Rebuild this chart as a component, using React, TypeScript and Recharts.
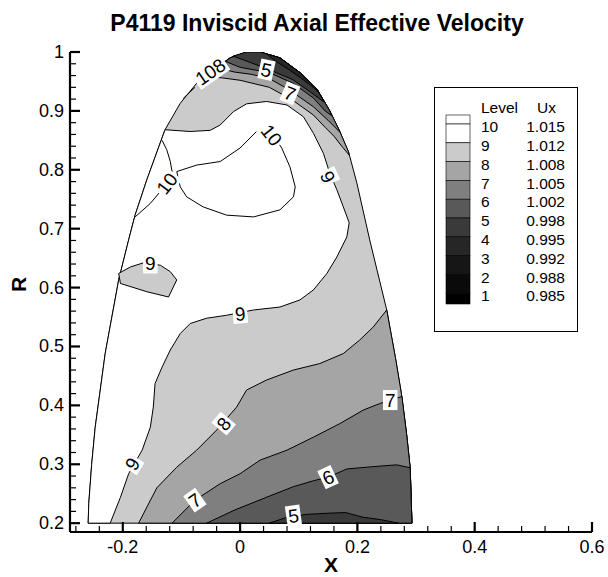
import { ScatterChart, Scatter, XAxis, YAxis, Legend } from 'recharts'

type Pt = [number, number]

const FONT = '"Liberation Sans", Arial, Helvetica, sans-serif'

// axis ticks
const X_MAJOR = [-0.2, 0, 0.2, 0.4, 0.6]
const X_MINOR = [-0.28, -0.24, -0.16, -0.12, -0.08, -0.04, 0.04, 0.08, 0.12, 0.16, 0.24, 0.28, 0.32, 0.36, 0.44, 0.48, 0.52, 0.56]
const Y_MAJOR = [0.2, 0.3, 0.4, 0.5, 0.6, 0.7, 0.8, 0.9, 1]
const Y_MINOR = [
  0.22, 0.24, 0.26, 0.28, 0.32, 0.34, 0.36, 0.38, 0.42, 0.44, 0.46, 0.48, 0.52, 0.54, 0.56, 0.58,
  0.62, 0.64, 0.66, 0.68, 0.72, 0.74, 0.76, 0.78, 0.82, 0.84, 0.86, 0.88, 0.92, 0.94, 0.96, 0.98,
]

// legend
const LEVELS = [10, 9, 8, 7, 6, 5, 4, 3, 2, 1]
const UX = ['1.015', '1.012', '1.008', '1.005', '1.002', '0.998', '0.995', '0.992', '0.988', '0.985']
// flood colour per band, index 0 = below level 1 ... 10 = above level 10
const BAND = ['#000000', '#0a0a0a', '#161616', '#262626', '#3a3a3a', '#595959', '#7f7f7f', '#a5a5a5', '#cbcbcb', '#ffffff', '#ffffff']

// blade outline, left side bottom -> top, right side top -> bottom
const BOUNDARY_LEFT: Pt[] = [
  [-0.259, 0.2], [-0.258, 0.233], [-0.253, 0.3], [-0.247, 0.363], [-0.23, 0.488], [-0.207, 0.613],
  [-0.19, 0.681], [-0.179, 0.723], [-0.159, 0.783], [-0.128, 0.868], [-0.102, 0.913], [-0.074, 0.947],
  [-0.034, 0.978], [-0.017, 0.99], [0.011, 1.0],
]
const BOUNDARY_RIGHT: Pt[] = [
  [0.034, 1.0], [0.068, 0.99], [0.102, 0.965], [0.131, 0.937], [0.153, 0.9], [0.17, 0.865],
  [0.185, 0.83], [0.199, 0.778], [0.221, 0.681], [0.25, 0.562], [0.265, 0.48], [0.275, 0.42],
  [0.284, 0.35], [0.29, 0.294], [0.293, 0.2],
]

// level 9: from the hub up the middle, round the top, back to the left edge
const C9_MAIN: Pt[] = [
  [-0.2215, 0.2], [-0.204, 0.244], [-0.19, 0.284], [-0.167, 0.324], [-0.153, 0.363], [-0.148, 0.397],
  [-0.145, 0.437], [-0.133, 0.465], [-0.119, 0.494], [-0.102, 0.522], [-0.085, 0.539], [-0.057, 0.548],
  [-0.023, 0.553], [0.023, 0.562], [0.068, 0.567], [0.102, 0.579], [0.125, 0.596], [0.148, 0.624],
  [0.165, 0.652], [0.182, 0.686], [0.186, 0.71], [0.176, 0.737], [0.165, 0.766], [0.153, 0.794],
  [0.142, 0.828], [0.125, 0.862], [0.108, 0.89], [0.08, 0.91], [0.045, 0.916], [0.011, 0.912],
  [-0.011, 0.899], [-0.034, 0.876], [-0.051, 0.867], [-0.085, 0.865], [-0.128, 0.868],
]
const C9_ISLAND: Pt[] = [
  [-0.207, 0.624], [-0.187, 0.635], [-0.165, 0.642], [-0.136, 0.638], [-0.119, 0.627],
  [-0.108, 0.613], [-0.122, 0.584], [-0.159, 0.593], [-0.204, 0.607], [-0.207, 0.624],
]
const C10_LEFT: Pt[] = [
  [-0.133, 0.85], [-0.125, 0.834], [-0.119, 0.814], [-0.116, 0.797], [-0.119, 0.783],
  [-0.136, 0.763], [-0.153, 0.743], [-0.179, 0.72],
]
const C10_LOOP: Pt[] = [
  [-0.108, 0.797], [-0.074, 0.808], [-0.034, 0.814], [0.0, 0.837], [0.028, 0.865], [0.054, 0.862],
  [0.071, 0.837], [0.085, 0.805], [0.094, 0.771], [0.091, 0.754], [0.068, 0.732], [0.023, 0.72],
  [-0.023, 0.723], [-0.063, 0.737], [-0.091, 0.754], [-0.102, 0.771], [-0.108, 0.797],
]
const C10_TIP: Pt[] = [[-0.097, 0.921], [-0.077, 0.94]]

// lower contours, hub -> right edge
const C8_LOWER: Pt[] = [
  [-0.173, 0.2], [-0.142, 0.26], [-0.108, 0.295], [-0.074, 0.324], [-0.04, 0.358], [-0.006, 0.397],
  [0.011, 0.426], [0.045, 0.443], [0.091, 0.46], [0.136, 0.471], [0.176, 0.488], [0.204, 0.511],
  [0.227, 0.533], [0.25, 0.562],
]
const C7_LOWER: Pt[] = [
  [-0.116, 0.2], [-0.077, 0.239], [-0.034, 0.267], [0.0, 0.284], [0.034, 0.307], [0.08, 0.324],
  [0.125, 0.346], [0.17, 0.369], [0.21, 0.392], [0.238, 0.403], [0.256, 0.409], [0.276, 0.415],
]
const C6_LOWER: Pt[] = [
  [-0.057, 0.2], [-0.01, 0.222], [0.045, 0.244], [0.091, 0.262], [0.125, 0.272], [0.15, 0.278],
  [0.182, 0.292], [0.227, 0.296], [0.267, 0.299], [0.29, 0.294],
]
const C5_LOWER: Pt[] = [
  [0.05, 0.2], [0.08, 0.21], [0.114, 0.215], [0.153, 0.217], [0.18, 0.218], [0.21, 0.21],
  [0.24, 0.206], [0.27, 0.2], [0.05, 0.2],
]

// tip contours, left edge -> right edge
const C8_TOP: Pt[] = [
  [-0.06, 0.958], [-0.03, 0.956], [0.0, 0.952], [0.05, 0.94], [0.09, 0.918], [0.125, 0.893],
  [0.145, 0.872], [0.16, 0.857], [0.175, 0.838], [0.186, 0.825],
]
const C7_TOP: Pt[] = [
  [-0.04, 0.974], [-0.01, 0.966], [0.02, 0.962], [0.05, 0.955], [0.085, 0.935], [0.125, 0.907],
  [0.15, 0.884], [0.17, 0.864],
]
const C6_TOP: Pt[] = [
  [-0.025, 0.984], [0.0, 0.974], [0.05, 0.965], [0.09, 0.947], [0.125, 0.922], [0.145, 0.9], [0.156, 0.892],
]
const C5_TOP: Pt[] = [
  [-0.012, 0.993], [0.01, 0.985], [0.045, 0.972], [0.09, 0.953], [0.12, 0.932], [0.143, 0.915],
]
const C4_TOP: Pt[] = [
  [0.045, 0.997], [0.068, 0.99], [0.102, 0.965], [0.131, 0.937], [0.134, 0.932], [0.122, 0.942],
  [0.105, 0.955], [0.085, 0.969], [0.06, 0.985], [0.045, 0.997],
]

// contour labels
const LABEL_TEXT = ['108', '5', '7', '10', '10', '9', '9', '9', '9', '8', '7', '6', '7', '5']
const LABEL_X = [-0.051, 0.045, 0.085, -0.125, 0.054, 0.15, -0.153, 0.0, -0.184, -0.028, -0.077, 0.15, 0.256, 0.091]
const LABEL_Y = [0.967, 0.97, 0.93, 0.777, 0.859, 0.788, 0.641, 0.556, 0.301, 0.369, 0.239, 0.278, 0.409, 0.213]
const LABEL_ANGLE = [-35, 12, 22, -52, 52, 65, 0, -5, -58, -50, -35, -25, 0, -8]

const last = (c: Pt[]) => c[c.length - 1]
const close = (c: Pt[]) => [...c, c[0]]
const topPoly = (c: Pt[]) =>
  close([
    ...c,
    ...BOUNDARY_RIGHT.filter(p => p[1] > last(c)[1]).reverse(),
    ...BOUNDARY_LEFT.filter(p => p[1] > c[0][1]).reverse(),
  ])
const lowerPoly = (c: Pt[]) => close([...c, ...BOUNDARY_RIGHT.filter(p => p[1] < last(c)[1])])

const FILLS = [
  { key: 'domain', pts: close([...BOUNDARY_LEFT, ...BOUNDARY_RIGHT]), fill: BAND[8] },
  { key: 'above9', pts: close([...C9_MAIN, ...BOUNDARY_LEFT.filter(p => p[1] < last(C9_MAIN)[1]).reverse()]), fill: BAND[9] },
  { key: 'island9', pts: C9_ISLAND, fill: BAND[8] },
  { key: 'low8', pts: lowerPoly(C8_LOWER), fill: BAND[7] },
  { key: 'low7', pts: lowerPoly(C7_LOWER), fill: BAND[6] },
  { key: 'low6', pts: lowerPoly(C6_LOWER), fill: BAND[5] },
  { key: 'low5', pts: C5_LOWER, fill: BAND[4] },
  { key: 'top8', pts: topPoly(C8_TOP), fill: BAND[7] },
  { key: 'top7', pts: topPoly(C7_TOP), fill: BAND[6] },
  { key: 'top6', pts: topPoly(C6_TOP), fill: BAND[5] },
  { key: 'top5', pts: topPoly(C5_TOP), fill: BAND[4] },
  { key: 'top4', pts: C4_TOP, fill: BAND[3] },
]
const LINES = [
  { key: 'c10a', pts: C10_LEFT },
  { key: 'c10b', pts: C10_LOOP },
  { key: 'c10c', pts: C10_TIP },
]

const asData = (c: Pt[]) => c.map(([x, y]) => ({ x, y }))
const labelData = LABEL_TEXT.map((text, i) => ({ x: LABEL_X[i], y: LABEL_Y[i], text, angle: LABEL_ANGLE[i] }))

const toPath = (pts: { x: number; y: number }[]) =>
  pts.map((p, i) => `${i ? 'L' : 'M'}${p.x},${p.y}`).join('')

const noDot = () => <g />

function ContourLabel(props: any) {
  const { cx, cy, payload } = props
  const w = payload.text.length * 10.5 + 4
  return (
    <g transform={`rotate(${payload.angle}, ${cx}, ${cy})`}>
      <rect x={cx - w / 2} y={cy - 10} width={w} height={20} fill="#fff" />
      <text x={cx} y={cy + 7} textAnchor="middle" fontSize={19} fontFamily={FONT} fill="#000">
        {payload.text}
      </text>
    </g>
  )
}

function XTick(props: any) {
  const { x, y, payload } = props
  const v = payload.value
  const major = X_MAJOR.includes(v)
  return (
    <g>
      <line x1={x} y1={y} x2={x} y2={y - (major ? 10 : 6)} stroke="#000" strokeWidth={major ? 2.2 : 1.2} />
      {major && (
        <text x={x} y={y + 21} textAnchor="middle" fontSize={18} fontFamily={FONT} fill="#000">
          {String(v)}
        </text>
      )}
    </g>
  )
}

function YTick(props: any) {
  const { x, y, payload } = props
  const v = payload.value
  const major = Y_MAJOR.includes(v)
  return (
    <g>
      <line x1={x} y1={y} x2={x + (major ? 10 : 6)} y2={y} stroke="#000" strokeWidth={major ? 2.2 : 1.2} />
      {major && (
        <text x={x - 6} y={y + 6} textAnchor="end" fontSize={18} fontFamily={FONT} fill="#000">
          {String(v)}
        </text>
      )}
    </g>
  )
}

function LevelLegend() {
  const rowY = (i: number) => 39.7 + 18.8 * i
  const edges = [28, ...LEVELS.map((_, i) => rowY(i) - 2.7), 217]
  return (
    <svg width={144} height={245} style={{ display: 'block' }}>
      <rect x={0.5} y={0.5} width={143} height={244} fill="#fff" stroke="#000" />
      {edges.slice(0, -1).map((top, k) => (
        <rect key={k} x={12} y={top} width={24} height={edges[k + 1] - top} fill={BAND[10 - k]} stroke="#000" strokeWidth={0.6} />
      ))}
      <g fontFamily={FONT} fontSize={15.5} fill="#000">
        <text x={47} y={26}>Level</text>
        <text x={103} y={26}>Ux</text>
        {LEVELS.map((lv, i) => (
          <g key={lv}>
            <text x={47} y={rowY(i) + 5.5}>{lv}</text>
            <text x={131} y={rowY(i) + 5.5} textAnchor="end">{UX[i]}</text>
          </g>
        ))}
      </g>
    </svg>
  )
}

export default function App() {
  return (
    <div style={{ position: 'absolute', left: 0, top: 0, width: 608, height: 577, background: '#fff', fontFamily: FONT }}>
      <div style={{ position: 'absolute', left: 13, top: 10, width: 608, textAlign: 'center', fontSize: 23, fontWeight: 700, lineHeight: '27px' }}>
        P4119 Inviscid Axial Effective Velocity
      </div>
      <ScatterChart width={608} height={577} margin={{ top: 52, right: 16, bottom: 5, left: 10 }}>
        <XAxis
          type="number"
          dataKey="x"
          domain={[-0.29, 0.6]}
          allowDataOverflow
          ticks={[...X_MAJOR, ...X_MINOR].sort((a, b) => a - b)}
          interval={0}
          height={40}
          tickSize={0}
          tickMargin={0}
          tickLine={false}
          tick={<XTick />}
          axisLine={{ stroke: '#000', strokeWidth: 2.2 }}
          label={{ value: 'X', position: 'insideBottom', offset: 0, style: { fontSize: 21, fontWeight: 700, fill: '#000', fontFamily: FONT } }}
        />
        <YAxis
          type="number"
          dataKey="y"
          domain={[0.185, 1]}
          allowDataOverflow
          ticks={[...Y_MAJOR, ...Y_MINOR].sort((a, b) => a - b)}
          interval={0}
          width={60}
          tickSize={0}
          tickMargin={0}
          tickLine={false}
          tick={<YTick />}
          axisLine={{ stroke: '#000', strokeWidth: 2.2 }}
          label={{ value: 'R', angle: -90, position: 'insideLeft', offset: 9, style: { fontSize: 21, fontWeight: 700, fill: '#000', fontFamily: FONT } }}
        />
        {FILLS.map(f => (
          <Scatter
            key={f.key}
            data={asData(f.pts)}
            shape={noDot}
            legendType="none"
            isAnimationActive={false}
            line={(lp: any) => <path d={toPath(lp.points)} fill={f.fill} stroke="#000" strokeWidth={1} />}
          />
        ))}
        {LINES.map(l => (
          <Scatter
            key={l.key}
            data={asData(l.pts)}
            shape={noDot}
            legendType="none"
            isAnimationActive={false}
            line={(lp: any) => <path d={toPath(lp.points)} fill="none" stroke="#000" strokeWidth={1} />}
          />
        ))}
        <Scatter data={labelData} shape={<ContourLabel />} legendType="none" isAnimationActive={false} />
        <Legend
          content={<LevelLegend />}
          layout="vertical"
          align="center"
          verticalAlign="middle"
          wrapperStyle={{ left: 434, top: 87, width: 144, height: 245 }}
        />
      </ScatterChart>
    </div>
  )
}
